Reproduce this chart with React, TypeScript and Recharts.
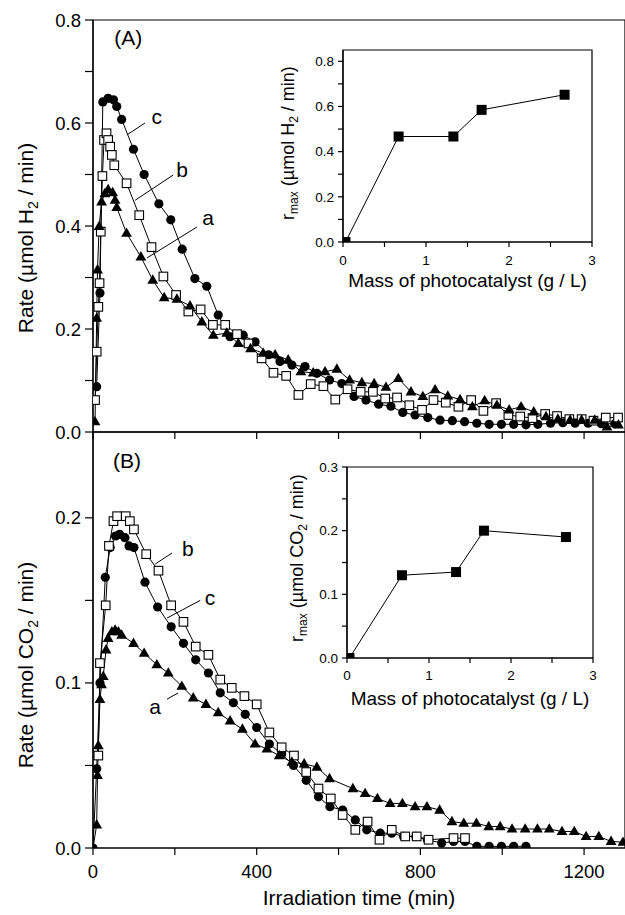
import React from 'react';
import {
  LineChart,
  Line,
  XAxis,
  YAxis,
  ReferenceArea,
  ReferenceLine,
  ReferenceDot,
  Label,
} from 'recharts';

const FONT = "'Liberation Sans', Arial, Helvetica, sans-serif";
const INK = '#000';

// ---------- Panel A : H2 evolution rate (µmol/min) vs irradiation time (min) ----------
const h2TimeA = [5, 9, 11, 15, 21, 29, 37, 48, 54, 58, 82, 117, 146, 174, 205, 237, 266, 294, 327, 355, 385, 416, 445, 477, 508, 538, 567, 596, 627, 657, 687, 716, 746, 777, 806, 836, 867, 897, 927, 957, 987, 1017, 1046, 1077, 1107, 1136, 1166, 1194, 1226, 1256, 1284];
const h2RateA = [0.02, 0.221, 0.315, 0.399, 0.447, 0.463, 0.471, 0.465, 0.45, 0.436, 0.386, 0.34, 0.295, 0.261, 0.258, 0.245, 0.214, 0.188, 0.192, 0.172, 0.162, 0.153, 0.15, 0.14, 0.117, 0.115, 0.117, 0.122, 0.101, 0.096, 0.094, 0.087, 0.104, 0.078, 0.069, 0.082, 0.07, 0.063, 0.049, 0.061, 0.052, 0.043, 0.049, 0.039, 0.03, 0.025, 0.023, 0.023, 0.023, 0.01, 0.014];

const h2TimeB = [5, 9, 13, 16, 19, 23, 27, 33, 37, 42, 46, 52, 82, 113, 143, 172, 203, 233, 263, 293, 323, 352, 380, 412, 441, 472, 502, 532, 563, 592, 622, 654, 684, 714, 743, 773, 804, 832, 862, 893, 924, 954, 985, 1015, 1044, 1074, 1105, 1134, 1164, 1194, 1223, 1253, 1283];
const h2RateB = [0.062, 0.156, 0.243, 0.289, 0.389, 0.497, 0.567, 0.58, 0.567, 0.554, 0.538, 0.518, 0.483, 0.421, 0.359, 0.302, 0.266, 0.234, 0.238, 0.208, 0.208, 0.19, 0.172, 0.143, 0.115, 0.109, 0.072, 0.093, 0.089, 0.063, 0.083, 0.078, 0.078, 0.065, 0.067, 0.052, 0.043, 0.062, 0.057, 0.049, 0.062, 0.041, 0.056, 0.033, 0.03, 0.027, 0.035, 0.031, 0.025, 0.025, 0.022, 0.028, 0.028];

const h2TimeC = [9, 17, 24, 37, 50, 58, 70, 99, 125, 161, 190, 218, 249, 278, 306, 335, 367, 396, 429, 457, 486, 518, 547, 578, 608, 638, 667, 698, 728, 757, 787, 818, 848, 878, 908, 938, 968, 998, 1028, 1058, 1087, 1118, 1148, 1178, 1210, 1242, 1275];
const h2RateC = [0.088, 0.27, 0.641, 0.648, 0.645, 0.632, 0.607, 0.549, 0.5, 0.443, 0.412, 0.355, 0.298, 0.283, 0.227, 0.185, 0.188, 0.175, 0.15, 0.137, 0.13, 0.127, 0.114, 0.101, 0.094, 0.069, 0.062, 0.054, 0.05, 0.038, 0.033, 0.028, 0.023, 0.022, 0.02, 0.017, 0.015, 0.015, 0.015, 0.014, 0.015, 0.017, 0.018, 0.017, 0.017, 0.016, 0.016];

// ---------- Panel B : CO2 evolution rate ----------
const co2TimeA = [0, 9, 11, 13, 17, 21, 25, 32, 37, 46, 54, 62, 70, 99, 125, 156, 184, 217, 245, 276, 306, 335, 365, 396, 425, 455, 486, 516, 547, 578, 635, 665, 695, 726, 756, 787, 816, 847, 877, 906, 937, 967, 995, 1024, 1056, 1086, 1115, 1146, 1176, 1205, 1236, 1266, 1295];
const co2RateA = [0, 0.014, 0.044, 0.062, 0.09, 0.099, 0.104, 0.12, 0.127, 0.131, 0.132, 0.131, 0.129, 0.124, 0.118, 0.111, 0.106, 0.098, 0.091, 0.087, 0.082, 0.077, 0.072, 0.063, 0.06, 0.056, 0.052, 0.051, 0.049, 0.042, 0.036, 0.033, 0.03, 0.027, 0.027, 0.025, 0.025, 0.023, 0.016, 0.015, 0.015, 0.013, 0.013, 0.0115, 0.0115, 0.0115, 0.0115, 0.01, 0.01, 0.007, 0.007, 0.004, 0.0035];

const co2TimeB = [13, 17, 31, 39, 50, 59, 80, 90, 100, 130, 160, 191, 221, 251, 282, 311, 339, 370, 400, 431, 461, 491, 521, 551, 581, 610, 641, 671, 700, 730, 763, 791, 820, 881, 909];
const co2RateB = [0.056, 0.112, 0.147, 0.183, 0.198, 0.201, 0.201, 0.198, 0.193, 0.178, 0.168, 0.147, 0.137, 0.122, 0.117, 0.102, 0.097, 0.092, 0.087, 0.07, 0.061, 0.056, 0.046, 0.036, 0.03, 0.02, 0.011, 0.016, 0.005, 0.011, 0.007, 0.007, 0.005, 0.006, 0.006];

const co2TimeC = [0, 9, 17, 30, 42, 55, 65, 78, 88, 100, 127, 158, 191, 221, 251, 282, 311, 343, 372, 400, 431, 461, 490, 521, 551, 579, 610, 641, 669, 702, 730, 759, 789, 817, 852, 881, 909, 938, 968, 998, 1028, 1058];
const co2RateC = [0, 0.048, 0.1, 0.164, 0.182, 0.189, 0.19, 0.188, 0.183, 0.182, 0.161, 0.146, 0.134, 0.124, 0.114, 0.106, 0.094, 0.088, 0.081, 0.073, 0.063, 0.057, 0.05, 0.041, 0.031, 0.025, 0.023, 0.017, 0.011, 0.009, 0.009, 0.007, 0.007, 0.005, 0.003, 0.004, 0.004, 0.001, 0.001, 0.001, 0.001, 0.001];

// ---------- Insets : r_max vs mass of photocatalyst (g/L) ----------
const massLoading = [0.03, 0.67, 1.33, 1.67, 2.67];
const rMaxH2 = [0, 0.467, 0.467, 0.585, 0.652];
const rMaxCO2 = [0, 0.13, 0.135, 0.2, 0.19];

// ---------- Axis ticks ----------
const timeTicks = [0, 200, 400, 600, 800, 1000, 1200];
const h2Ticks = [0, 0.1, 0.2, 0.3, 0.4, 0.5, 0.6, 0.7, 0.8];
const co2Ticks = [0, 0.05, 0.1, 0.15, 0.2];
const massTicks = [0, 0.5, 1, 1.5, 2, 2.5, 3];
const insetH2Ticks = [0, 0.1, 0.2, 0.3, 0.4, 0.5, 0.6, 0.7, 0.8];
const insetCO2Ticks = [0, 0.05, 0.1, 0.15, 0.2, 0.25, 0.3];

const rows = (xs: number[], ys: number[]) => xs.map((x, i) => ({ t: x, v: ys[i] }));

const fmtTime = (v: number) => (v % 400 === 0 ? String(v) : '');
const fmtEvenTenth = (v: number) => (Math.round(v * 10) % 2 === 0 ? v.toFixed(1) : '');
const fmtTenth = (v: number) => (Math.abs(Math.round(v * 10) - v * 10) < 1e-6 ? v.toFixed(1) : '');
const fmtInt = (v: number) => (Number.isInteger(v) ? String(v) : '');

// ---------- Markers ----------
const CircleDot = (p: any) =>
  p.cx == null ? null : <circle key={`c${p.index}`} cx={p.cx} cy={p.cy} r={4.6} fill={INK} />;
const SquareDot = (p: any) =>
  p.cx == null ? null : (
    <rect key={`s${p.index}`} x={p.cx - 4.3} y={p.cy - 4.3} width={8.6} height={8.6} fill="#fff" stroke={INK} strokeWidth={1.1} />
  );
const TriDot = (p: any) =>
  p.cx == null ? null : (
    <path key={`t${p.index}`} d={`M${p.cx},${p.cy - 5.8}L${p.cx + 5.4},${p.cy + 3.6}L${p.cx - 5.4},${p.cy + 3.6}Z`} fill={INK} />
  );
const InsetDot = (p: any) =>
  p.cx == null ? null : <rect key={`i${p.index}`} x={p.cx - 5} y={p.cy - 5} width={10} height={10} fill={INK} />;

// ---------- Axis titles with subscripts ----------
const rateTitle = (gas: string, cx: number, cy: number) => () => (
  <text x={cx} y={cy} transform={`rotate(-90, ${cx}, ${cy})`} textAnchor="middle" fontFamily={FONT} fontSize={21} fill={INK}>
    Rate (µmol {gas}
    <tspan dy={5} fontSize={14}>2</tspan>
    <tspan dy={-5}> / min)</tspan>
  </text>
);

const rmaxTitle = (gas: string, cx: number, cy: number) => () => (
  <text x={cx} y={cy} transform={`rotate(-90, ${cx}, ${cy})`} textAnchor="middle" fontFamily={FONT} fontSize={18} fill={INK}>
    r<tspan dy={4} fontSize={12}>max</tspan>
    <tspan dy={-4}> (µmol {gas}</tspan>
    <tspan dy={4} fontSize={12}>2</tspan>
    <tspan dy={-4}> / min)</tspan>
  </text>
);

const tickMain = { fontSize: 18.5, fill: INK, fontFamily: FONT };
const tickInset = { fontSize: 13.5, fill: INK, fontFamily: FONT };
const axisStroke = { stroke: INK, strokeWidth: 1.2 };

const letter = (x: number, y: number, text: string, key: string) => (
  <ReferenceDot
    key={key}
    x={x}
    y={y}
    r={1}
    fill="none"
    stroke="none"
    label={{ value: text, position: 'center', fontSize: 21, fill: INK, fontFamily: FONT }}
  />
);

const seg = (x1: number, y1: number, x2: number, y2: number, key: string) => (
  <ReferenceLine key={key} segment={[{ x: x1, y: y1 }, { x: x2, y: y2 }]} stroke={INK} strokeWidth={1} />
);

function MainPanelA() {
  return (
    <LineChart width={625} height={452} margin={{ top: 20, right: 0, bottom: 12, left: 0 }}>
      <XAxis
        type="number"
        dataKey="t"
        domain={[0, 1300]}
        ticks={timeTicks}
        interval={0}
        tickFormatter={() => ''}
        height={8}
        tickSize={7}
        axisLine={axisStroke}
        tickLine={axisStroke}
        allowDataOverflow
      />
      <YAxis
        type="number"
        domain={[0, 0.8]}
        ticks={h2Ticks}
        interval={0}
        tickFormatter={fmtEvenTenth}
        width={93}
        tickSize={8}
        tickMargin={4}
        tick={tickMain}
        axisLine={axisStroke}
        tickLine={axisStroke}
        allowDataOverflow
      >
        <Label content={rateTitle('H', 33, 238)} />
      </YAxis>
      <ReferenceArea x1={0} x2={1300} y1={0} y2={0.8} fill="none" stroke={INK} strokeWidth={1.2} ifOverflow="visible" />
      <Line data={rows(h2TimeC, h2RateC)} dataKey="v" stroke={INK} strokeWidth={1} dot={CircleDot} activeDot={false} isAnimationActive={false} />
      <Line data={rows(h2TimeB, h2RateB)} dataKey="v" stroke={INK} strokeWidth={1} dot={SquareDot} activeDot={false} isAnimationActive={false} />
      <Line data={rows(h2TimeA, h2RateA)} dataKey="v" stroke={INK} strokeWidth={1} dot={TriDot} activeDot={false} isAnimationActive={false} />
      {seg(83, 0.577, 127, 0.6, 'lc')}
      {seg(103, 0.45, 196, 0.499, 'lb')}
      {seg(132, 0.338, 254, 0.398, 'la')}
      {letter(156, 0.612, 'c', 'tc')}
      {letter(218, 0.509, 'b', 'tb')}
      {letter(281, 0.417, 'a', 'ta')}
      {letter(86, 0.765, '(A)', 'tA')}
    </LineChart>
  );
}

function MainPanelB() {
  return (
    <LineChart width={625} height={495} margin={{ top: 12, right: 0, bottom: 0, left: 0 }}>
      <XAxis
        type="number"
        dataKey="t"
        domain={[0, 1300]}
        ticks={timeTicks}
        interval={0}
        tickFormatter={fmtTime}
        height={67}
        tickSize={7}
        tickMargin={10}
        tick={tickMain}
        axisLine={axisStroke}
        tickLine={axisStroke}
        allowDataOverflow
      >
        <Label value="Irradiation time (min)" position="insideBottom" offset={10} fontSize={21} fill={INK} fontFamily={FONT} />
      </XAxis>
      <YAxis
        type="number"
        domain={[0, 0.252]}
        ticks={co2Ticks}
        interval={0}
        tickFormatter={fmtTenth}
        width={93}
        tickSize={8}
        tickMargin={4}
        tick={tickMain}
        axisLine={axisStroke}
        tickLine={axisStroke}
        allowDataOverflow
      >
        <Label content={rateTitle('CO', 33, 245)} />
      </YAxis>
      <ReferenceArea x1={0} x2={1300} y1={0} y2={0.252} fill="none" stroke={INK} strokeWidth={1.2} ifOverflow="visible" />
      <Line data={rows(co2TimeC, co2RateC)} dataKey="v" stroke={INK} strokeWidth={1} dot={CircleDot} activeDot={false} isAnimationActive={false} />
      <Line data={rows(co2TimeB, co2RateB)} dataKey="v" stroke={INK} strokeWidth={1} dot={SquareDot} activeDot={false} isAnimationActive={false} />
      <Line data={rows(co2TimeA, co2RateA)} dataKey="v" stroke={INK} strokeWidth={1} dot={TriDot} activeDot={false} isAnimationActive={false} />
      {seg(152, 0.172, 193, 0.1787, 'lb')}
      {seg(181, 0.1393, 262, 0.15, 'lc')}
      {seg(181, 0.0902, 208, 0.0939, 'la')}
      {letter(232, 0.1817, 'b', 'tb')}
      {letter(286, 0.152, 'c', 'tc')}
      {letter(152, 0.0854, 'a', 'ta')}
      {letter(83, 0.235, '(B)', 'tB')}
    </LineChart>
  );
}

function Inset({
  values,
  yMax,
  yTicks,
  gas,
  yAxisWidth,
  xAxisHeight,
  width,
  height,
  titleX,
  titleY,
  xTickMargin,
}: {
  values: number[];
  yMax: number;
  yTicks: number[];
  gas: string;
  yAxisWidth: number;
  xAxisHeight: number;
  width: number;
  height: number;
  titleX: number;
  titleY: number;
  xTickMargin: number;
}) {
  return (
    <LineChart width={width} height={height} margin={{ top: 10, right: 8, bottom: 0, left: 0 }}>
      <XAxis
        type="number"
        dataKey="t"
        domain={[0, 3]}
        ticks={massTicks}
        interval={0}
        tickFormatter={fmtInt}
        height={xAxisHeight}
        tickSize={5}
        tickMargin={xTickMargin}
        tick={tickInset}
        axisLine={axisStroke}
        tickLine={axisStroke}
        allowDataOverflow
      >
        <Label value="Mass of photocatalyst (g / L)" position="insideBottom" offset={15} fontSize={19} fill={INK} fontFamily={FONT} />
      </XAxis>
      <YAxis
        type="number"
        domain={[0, yMax]}
        ticks={yTicks}
        interval={0}
        tickFormatter={yMax > 0.5 ? fmtEvenTenth : fmtTenth}
        width={yAxisWidth}
        tickSize={5}
        tickMargin={4}
        tick={tickInset}
        axisLine={axisStroke}
        tickLine={axisStroke}
        allowDataOverflow
      >
        <Label content={rmaxTitle(gas, titleX, titleY)} />
      </YAxis>
      <ReferenceArea x1={0} x2={3} y1={0} y2={yMax} fill="none" stroke={INK} strokeWidth={1.2} ifOverflow="visible" />
      <Line data={rows(massLoading, values)} dataKey="v" stroke={INK} strokeWidth={1} dot={InsetDot} activeDot={false} isAnimationActive={false} />
    </LineChart>
  );
}

export default function App() {
  return (
    <div style={{ position: 'absolute', left: 0, top: 0, width: 625, height: 915, background: '#fff', fontFamily: FONT, overflow: 'hidden' }}>
      <div style={{ position: 'absolute', left: 0, top: 0 }}>
        <MainPanelA />
      </div>
      <div style={{ position: 'absolute', left: 0, top: 420 }}>
        <MainPanelB />
      </div>
      <div style={{ position: 'absolute', left: 270, top: 40 }}>
        <Inset values={rMaxH2} yMax={0.85} yTicks={insetH2Ticks} gas="H" yAxisWidth={73} xAxisHeight={60} width={330} height={262} titleX={24} titleY={103} xTickMargin={8} />
      </div>
      <div style={{ position: 'absolute', left: 270, top: 457 }}>
        <Inset values={rMaxCO2} yMax={0.3} yTicks={insetCO2Ticks} gas="CO" yAxisWidth={77} xAxisHeight={62} width={331} height={263} titleX={33} titleY={101} xTickMargin={7} />
      </div>
    </div>
  );
}
